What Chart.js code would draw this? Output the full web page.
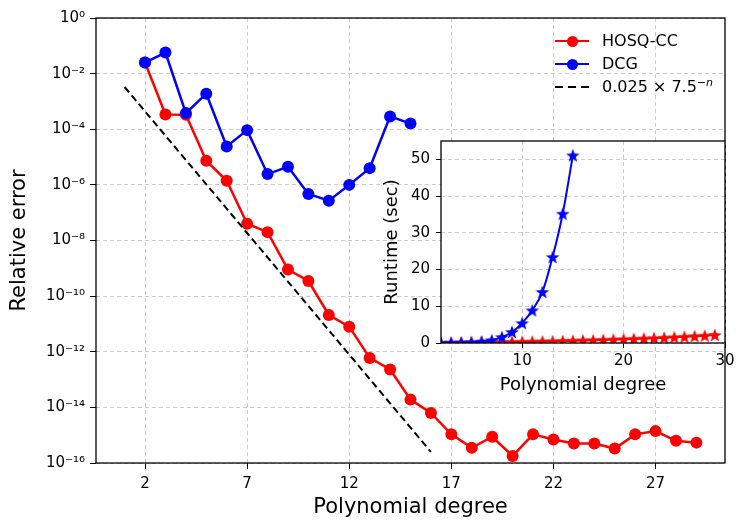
<!DOCTYPE html>
<html>
<head>
<meta charset="utf-8">
<script src="https://cdn.jsdelivr.net/npm/chart.js@4.4.0/dist/chart.umd.min.js"></script>
<style>
  body { margin: 0; background: #fff; font-family: "DejaVu Sans", sans-serif; }
  #wrap { position: relative; width: 747px; height: 532px; overflow: hidden; }
  #main { position: absolute; left: 0; top: 0; }
  #inset { position: absolute; left: 375px; top: 126px; }
  .row { position: absolute; left: 555px; height: 0; }
  .ln { position: absolute; left: 0; top: -1.25px; width: 34px; height: 2.5px; }
  .dot { position: absolute; left: 11.5px; top: -5.5px; width: 11px; height: 11px; border-radius: 50%; }
  .dash { position: absolute; left: 0; top: -1px; width: 34px; height: 2px;
          background: repeating-linear-gradient(to right, #000 0 8px, transparent 8px 13px); }
  .tx { position: absolute; left: 47px; top: -10px; font-size: 16px; line-height: 20px; white-space: nowrap; color: #000; }
  .tx sup { font-size: 11px; vertical-align: 6px; line-height: 0; }
</style>
</head>
<body>
<div id="wrap">
  <canvas id="main" width="747" height="532"></canvas>
  <canvas id="inset" width="365" height="279"></canvas>
  <div class="row" style="top:41px"><span class="ln" style="background:#f00"></span><span class="dot" style="background:#f00"></span><span class="tx">HOSQ-CC</span></div>
  <div class="row" style="top:64px"><span class="ln" style="background:#00f"></span><span class="dot" style="background:#00f"></span><span class="tx">DCG</span></div>
  <div class="row" style="top:87px"><span class="dash"></span><span class="tx">0.025 × 7.5<sup><i>−n</i></sup></span></div>
</div>
<script>
// erreur relative (axe log)
const degrees = [2, 3, 4, 5, 6, 7, 8, 9, 10, 11, 12, 13, 14, 15, 16, 17, 18, 19, 20, 21, 22, 23, 24, 25, 26, 27, 28, 29];
const errHosq = [2.5e-2, 3.4e-4, 3.3e-4, 7.4e-6, 1.4e-6, 4e-8, 2e-8, 9e-10, 3.5e-10, 2.1e-11, 8e-12, 6e-13, 2.3e-13, 1.9e-14,
                 6.3e-15, 1.07e-15, 3.5e-16, 8.8e-16, 1.8e-16, 1.07e-15, 7e-16, 5e-16, 5e-16, 3.3e-16, 1.07e-15, 1.4e-15, 6.3e-16, 5.4e-16];
const degreesDcg = [2, 3, 4, 5, 6, 7, 8, 9, 10, 11, 12, 13, 14, 15];
const errDcg = [2.5e-2, 5.7e-2, 3.8e-4, 1.9e-3, 2.4e-5, 9.3e-5, 2.45e-6, 4.5e-6, 4.7e-7, 2.7e-7, 1e-6, 4e-6, 2.9e-4, 1.6e-4];
const fitDegrees = [1, 16];
const fitErr = [3.3e-3, 2.5e-16];
const xTicks = [2, 7, 12, 17, 22, 27];
const yTicks = [1e0, 1e-2, 1e-4, 1e-6, 1e-8, 1e-10, 1e-12, 1e-14, 1e-16];
const yTickLabels = ['10⁰', '10⁻²', '10⁻⁴', '10⁻⁶', '10⁻⁸', '10⁻¹⁰', '10⁻¹²', '10⁻¹⁴', '10⁻¹⁶'];

// temps de calcul (encart)
const runHosq = [0.08, 0.10, 0.12, 0.15, 0.18, 0.21, 0.25, 0.29, 0.33, 0.38, 0.43, 0.49, 0.55, 0.62,
                 0.69, 0.76, 0.84, 0.93, 1.02, 1.11, 1.21, 1.31, 1.43, 1.55, 1.70, 1.85, 2.00, 2.18];
const runDcg = [0.02, 0.05, 0.1, 0.2, 0.4, 0.75, 1.6, 3.0, 5.4, 8.9, 13.9, 23.4, 35.2, 51.1];
const insetXTicks = [10, 20, 30];
const insetYTicks = [0, 10, 20, 30, 40, 50];

const FONT = '"DejaVu Sans", sans-serif';
const GRID = '#cccccc';

const pts = (xs, ys) => xs.map((x, i) => ({ x: x, y: ys[i] }));

// cadre noir + fond blanc de la zone de tracé
const frame = (bg) => ({
  id: 'frame',
  beforeDraw(chart) {
    if (!bg) return;
    const a = chart.chartArea;
    chart.ctx.save();
    chart.ctx.fillStyle = '#fff';
    chart.ctx.fillRect(a.left, a.top, a.right - a.left, a.bottom - a.top);
    chart.ctx.restore();
  },
  afterDraw(chart) {
    const a = chart.chartArea;
    const c = chart.ctx;
    c.save();
    c.strokeStyle = '#000';
    c.lineWidth = 1.3;
    c.strokeRect(a.left, a.top, a.right - a.left, a.bottom - a.top);
    c.restore();
  }
});

function starImage(color) {
  const c = document.createElement('canvas');
  c.width = 16; c.height = 16;
  const g = c.getContext('2d');
  g.fillStyle = color;
  g.beginPath();
  for (let i = 0; i < 10; i++) {
    const r = i % 2 ? 3 : 7.2;
    const a = -Math.PI / 2 + i * Math.PI / 5;
    g.lineTo(8 + r * Math.cos(a), 8.6 + r * Math.sin(a));
  }
  g.closePath();
  g.fill();
  return c;
}

new Chart(document.getElementById('main'), {
  type: 'line',
  data: {
    datasets: [{
      label: 'HOSQ-CC',
      data: pts(degrees, errHosq),
      borderColor: '#ff0000',
      backgroundColor: '#ff0000',
      borderWidth: 2.5,
      pointRadius: 6,
      pointBorderWidth: 0,
      order: 3
    }, {
      label: 'DCG',
      data: pts(degreesDcg, errDcg),
      borderColor: '#0000ff',
      backgroundColor: '#0000ff',
      borderWidth: 2.5,
      pointRadius: 6,
      pointBorderWidth: 0,
      order: 2
    }, {
      label: 'fit',
      data: pts(fitDegrees, fitErr),
      borderColor: '#000',
      borderWidth: 2,
      borderDash: [7, 4],
      pointRadius: 0,
      order: 1
    }]
  },
  options: {
    responsive: false,
    animation: false,
    layout: { padding: { left: 0, right: 22, top: 18, bottom: 0 } },
    plugins: { legend: { display: false }, tooltip: { enabled: false } },
    scales: {
      x: {
        type: 'linear',
        min: -0.4,
        max: 30.4,
        afterBuildTicks: (s) => { s.ticks = xTicks.map(v => ({ value: v })); },
        afterFit: (s) => { s.height = 69; },
        ticks: { font: { family: FONT, size: 15 }, color: '#000', padding: 6, maxRotation: 0 },
        grid: { color: GRID, tickColor: '#000', tickLength: 6, tickBorderDash: [] },
        border: { display: false, dash: [4, 3] },
        title: { display: true, text: 'Polynomial degree', font: { family: FONT, size: 21 }, color: '#000', padding: { top: 0, bottom: 12 } }
      },
      y: {
        type: 'logarithmic',
        min: 1e-16,
        max: 1,
        afterBuildTicks: (s) => { s.ticks = yTicks.map(v => ({ value: v })); },
        afterFit: (s) => { s.width = 96; },
        ticks: {
          font: { family: FONT, size: 15 }, color: '#000', padding: 5,
          callback: (v) => yTickLabels[yTicks.indexOf(v)]
        },
        grid: { color: GRID, tickColor: '#000', tickLength: 6, tickBorderDash: [] },
        border: { display: false, dash: [4, 3] },
        title: { display: true, text: 'Relative error', font: { family: FONT, size: 21 }, color: '#000', padding: { top: 7, bottom: 0 } }
      }
    }
  },
  plugins: [frame(false)]
});

new Chart(document.getElementById('inset'), {
  type: 'line',
  data: {
    datasets: [{
      label: 'HOSQ-CC',
      data: pts(degrees, runHosq),
      borderColor: '#ff0000',
      borderWidth: 2,
      pointStyle: starImage('#ff0000'),
      order: 2
    }, {
      label: 'DCG',
      data: pts(degreesDcg, runDcg),
      borderColor: '#0000ff',
      borderWidth: 2,
      cubicInterpolationMode: 'monotone',
      pointStyle: starImage('#0000ff'),
      order: 1
    }]
  },
  options: {
    responsive: false,
    animation: false,
    layout: { padding: { left: 0, right: 15, top: 0, bottom: 0 } },
    plugins: { legend: { display: false }, tooltip: { enabled: false } },
    scales: {
      x: {
        type: 'linear',
        min: 2,
        max: 30,
        afterBuildTicks: (s) => { s.ticks = insetXTicks.map(v => ({ value: v })); },
        afterFit: (s) => { s.height = 62; },
        ticks: { font: { family: FONT, size: 15 }, color: '#000', padding: 4, maxRotation: 0 },
        grid: { color: GRID, tickColor: '#000', tickLength: 5, tickBorderDash: [] },
        border: { display: false, dash: [4, 3] },
        title: { display: true, text: 'Polynomial degree', font: { family: FONT, size: 18 }, color: '#000', padding: { top: 0, bottom: 9 } }
      },
      y: {
        type: 'linear',
        min: 0,
        max: 55,
        afterBuildTicks: (s) => { s.ticks = insetYTicks.map(v => ({ value: v })); },
        afterFit: (s) => { s.width = 66; },
        ticks: { font: { family: FONT, size: 15 }, color: '#000', padding: 6 },
        grid: { color: GRID, tickColor: '#000', tickLength: 5, tickBorderDash: [] },
        border: { display: false, dash: [4, 3] },
        title: { display: true, text: 'Runtime (sec)', font: { family: FONT, size: 18 }, color: '#000', padding: { top: 7, bottom: 0 } }
      }
    }
  },
  plugins: [frame(true)]
});
</script>
</body>
</html>
